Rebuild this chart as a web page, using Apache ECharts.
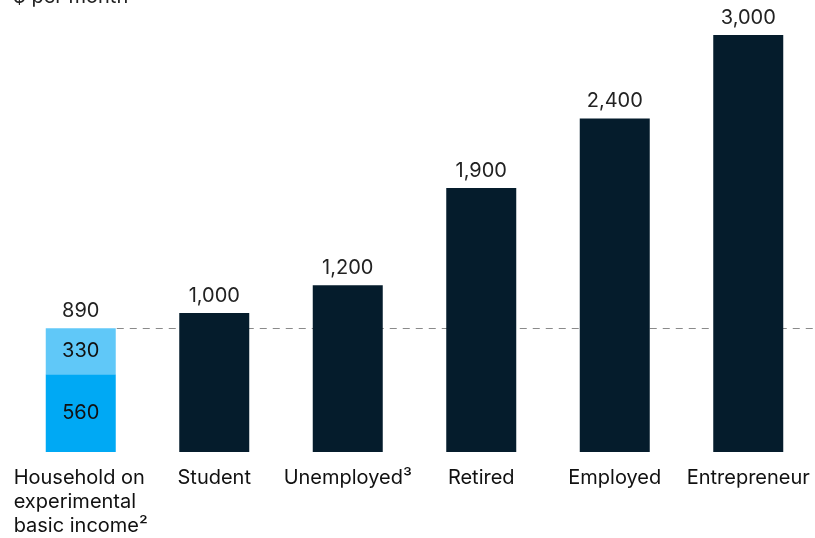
<!DOCTYPE html>
<html><head><meta charset="utf-8">
<script src="https://cdn.jsdelivr.net/npm/echarts@6/dist/echarts.min.js"></script>
<style>html,body{margin:0;padding:0;background:#fff}#c{width:815px;height:538px}</style>
</head><body><div id="c"></div>
<script>
const categories = ['Household on\nexperimental\nbasic income²', 'Student', 'Unemployed³', 'Retired', 'Employed', 'Entrepreneur'];
const totals = [890, 1000, 1200, 1900, 2400, 3000];
const basicBase = [560, '-', '-', '-', '-', '-'];
const basicTop = [330, '-', '-', '-', '-', '-'];
const referenceLevel = 890;
const unitLabel = '$ per month';

const FONT = 'Inter, Roboto, sans-serif';
const BAR_W = 70;
const chart = echarts.init(document.getElementById('c'), null, {renderer: 'canvas'});
function markLineData(startX) {
  const start = {coord: [0, referenceLevel]};
  if (startX != null) start.x = startX;
  return [[start, {coord: [categories.length - 1, referenceLevel], x: '100%'}]];
}
chart.setOption({
  animation: false,
  backgroundColor: '#fff',
  title: {text: unitLabel, left: 8, top: -18, textStyle: {fontFamily: FONT, fontSize: 20, fontWeight: 'normal', color: '#222'}},
  grid: {left: 14, right: -3, top: 35, bottom: 86},
  xAxis: {
    type: 'category', data: categories,
    axisLine: {show: false}, axisTick: {show: false},
    axisLabel: {
      interval: 0, margin: 14, color: '#111', fontFamily: FONT, fontSize: 20, lineHeight: 24,
      verticalAlign: 'top',
      formatter: function (v, i) { return i === 0 ? '{l|' + v.split('\n').join('}\n{l|') + '}' : v; },
      rich: {l: {align: 'left', fontFamily: FONT, fontSize: 20, lineHeight: 24, color: '#111'}}
    }
  },
  yAxis: {type: 'value', min: 0, max: 3000, show: false, splitLine: {show: false}},
  series: [
    {
      name: 'total', type: 'bar', barWidth: BAR_W, barGap: '-100%', z: 2,
      data: totals.map((v, i) => ({value: v, itemStyle: {color: i === 0 ? 'rgba(0,0,0,0)' : '#051c2c'}})),
      label: {show: true, position: 'top', distance: 7, fontFamily: FONT, fontSize: 20, color: '#222',
        formatter: p => p.value.toLocaleString('en-US')},
      markLine: {
        z: 1, silent: true, symbol: 'none',
        lineStyle: {type: [7, 6], color: '#8a8a8a', width: 1},
        label: {show: false},
        data: markLineData(null)
      }
    },
    {
      name: 'base', type: 'bar', stack: 'bi', barWidth: BAR_W, barGap: '-100%', z: 3,
      itemStyle: {color: '#00a9f4'}, data: basicBase,
      label: {show: true, position: 'inside', fontFamily: FONT, fontSize: 20, color: '#111'}
    },
    {
      name: 'top', type: 'bar', stack: 'bi', barWidth: BAR_W, barGap: '-100%', z: 3,
      itemStyle: {color: '#60c8f8'}, data: basicTop,
      label: {show: true, position: 'inside', fontFamily: FONT, fontSize: 20, color: '#111'}
    }
  ]
});
// start the reference line just right of the first bar, using the axis scale
const firstCenter = chart.convertToPixel({xAxisIndex: 0}, 0);
chart.setOption({series: [{name: 'total', markLine: {data: markLineData(firstCenter + BAR_W / 2 + 1)}}]});
</script></body></html>
